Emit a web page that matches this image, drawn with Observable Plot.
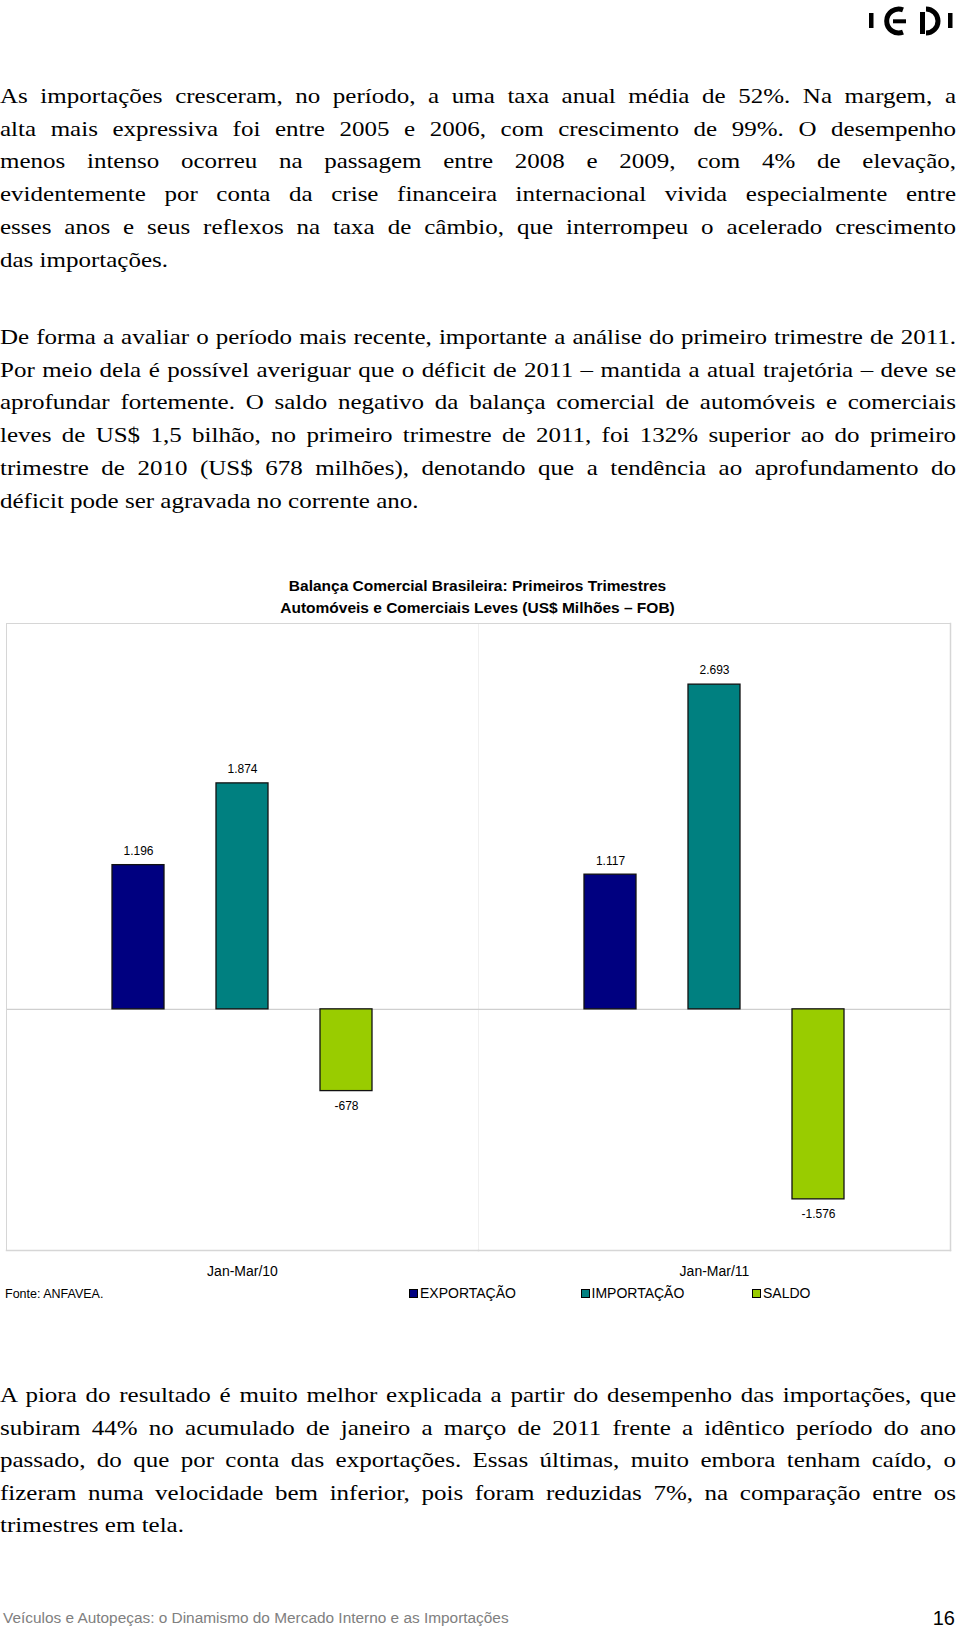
<!DOCTYPE html>
<html>
<head>
<meta charset="utf-8">
<script src="https://cdn.jsdelivr.net/npm/d3@7"></script>
<script src="https://cdn.jsdelivr.net/npm/@observablehq/plot@0.6"></script>
<style>
  html, body { margin: 0; padding: 0; background: #fff; }
  body { width: 960px; height: 1632px; position: relative; overflow: hidden; }
  .line { position: absolute; left: 0; width: 956px; white-space: nowrap;
          font-family: "Liberation Serif", "Times New Roman", serif; font-size: 25px;
          line-height: 30px; height: 30px; color: #000; transform: scaleY(0.88); }
  .sans { font-family: "Liberation Sans", Arial, sans-serif; position: absolute; white-space: nowrap; }
  .title { left: 0; width: 955px; text-align: center; font-weight: bold; font-size: 15.5px; line-height: 20px; color: #000; }
  #chart { position: absolute; left: 0; top: 613px; }
  .leg { position: absolute; top: 1284px; height: 18px; line-height: 18px; font-size: 14px; display: flex; align-items: center; }
  .sw { width: 7px; height: 7px; border: 1px solid #000; margin-right: 2px; }
</style>
</head>
<body>
<svg style="position:absolute;left:860px;top:0" width="100" height="45" viewBox="860 0 100 45">
  <rect x="869" y="13" width="4.5" height="15" fill="#000"/>
  <path d="M903,9.8 A12,12 0 1 0 903,32.2" fill="none" stroke="#000" stroke-width="5"/>
  <rect x="893" y="19.3" width="13" height="4" fill="#000"/>
  <rect x="920" y="12" width="5" height="22" fill="#000"/>
  <path d="M926,9 A12,12 0 0 1 926,33" fill="none" stroke="#000" stroke-width="5"/>
  <rect x="948" y="13" width="4.5" height="15" fill="#000"/>
</svg>
<div id="chart"></div>
<script>
// ---------- data ----------
const periods = ["Jan-Mar/10", "Jan-Mar/11"];
const series = ["EXPORTAÇÃO", "IMPORTAÇÃO", "SALDO"];
const exportacao = [1196, 1117];
const importacao = [1874, 2693];
const saldo = [-678, -1576];
const colors = ["#000080", "#008080", "#99CC00"];
const yDomain = [-2000, 3200];

const titleLines = [
  "Balança Comercial Brasileira: Primeiros Trimestres",
  "Automóveis e Comerciais Leves (US$ Milhões – FOB)"
];
const source = "Fonte: ANFAVEA.";

const para1 = [
  "As importações cresceram, no período, a uma taxa anual média de 52%. Na margem, a",
  "alta mais expressiva foi entre 2005 e 2006, com crescimento de 99%. O desempenho",
  "menos intenso ocorreu na passagem entre 2008 e 2009, com 4% de elevação,",
  "evidentemente por conta da crise financeira internacional vivida especialmente entre",
  "esses anos e seus reflexos na taxa de câmbio, que interrompeu o acelerado crescimento",
  "das importações."
];
const para2 = [
  "De forma a avaliar o período mais recente, importante a análise do primeiro trimestre de 2011.",
  "Por meio dela é possível averiguar que o déficit de 2011 – mantida a atual trajetória – deve se",
  "aprofundar fortemente. O saldo negativo da balança comercial de automóveis e comerciais",
  "leves de US$ 1,5 bilhão, no primeiro trimestre de 2011, foi 132% superior ao do primeiro",
  "trimestre de 2010 (US$ 678 milhões), denotando que a tendência ao aprofundamento do",
  "déficit pode ser agravada no corrente ano."
];
const para3 = [
  "A piora do resultado é muito melhor explicada a partir do desempenho das importações, que",
  "subiram 44% no acumulado de janeiro a março de 2011 frente a idêntico período do ano",
  "passado, do que por conta das exportações. Essas últimas, muito embora tenham caído, o",
  "fizeram numa velocidade bem inferior, pois foram reduzidas 7%, na comparação entre os",
  "trimestres em tela."
];
const footerText = "Veículos e Autopeças: o Dinamismo do Mercado Interno e as Importações";
const pageNumber = "16";

// ---------- page text ----------
function addLine(text, center, justify) {
  const d = document.createElement("div");
  d.className = "line";
  d.style.top = (center - 15) + "px";
  const s = document.createElement("span");
  s.textContent = text;
  d.appendChild(s);
  document.body.appendChild(d);
  if (justify) {
    const w = s.getBoundingClientRect().width;
    const n = (text.match(/ /g) || []).length;
    if (n) s.style.wordSpacing = ((956 - w) / n) + "px";
  }
}
function addPara(lines, start, step) {
  lines.forEach((t, i) => addLine(t, start + i * step, i < lines.length - 1));
}
addPara(para1, 96, 32.7);
addPara(para2, 337, 32.7);
addPara(para3, 1395, 32.6);

function addSans(text, cls, style) {
  const d = document.createElement("div");
  d.className = "sans " + cls;
  d.textContent = text;
  Object.assign(d.style, style);
  document.body.appendChild(d);
  return d;
}
titleLines.forEach((t, i) => addSans(t, "title", {top: (576 + i * 22) + "px"}));
addSans(source, "", {left: "5px", top: "1285px", fontSize: "12.5px", lineHeight: "18px", color: "#000"});
addSans(footerText, "", {left: "3px", top: "1608px", fontSize: "15.4px", lineHeight: "20px", color: "#808080"});
addSans(pageNumber, "", {right: "5px", top: "1606px", fontSize: "20px", lineHeight: "24px", color: "#000"});

// legend
series.forEach((s, i) => {
  const item = document.createElement("div");
  item.className = "leg sans";
  item.style.left = (409 + i * 171.5) + "px";
  const sw = document.createElement("div");
  sw.className = "sw";
  sw.style.background = colors[i];
  const tx = document.createElement("span");
  tx.textContent = s;
  item.appendChild(sw);
  item.appendChild(tx);
  document.body.appendChild(item);
});

// ---------- chart ----------
const data = periods.flatMap((p, i) => [
  {period: p, series: series[0], value: exportacao[i]},
  {period: p, series: series[1], value: importacao[i]},
  {period: p, series: series[2], value: saldo[i]}
]);
const fmt = d3.formatLocale({decimal: ",", thousands: ".", grouping: [3], currency: ["US$", ""], minus: "-"}).format(",d");
const border = "#d6d6d6";

const chart = Plot.plot({
  width: 960,
  height: 671,
  marginTop: 10,
  marginBottom: 34,
  marginLeft: 5,
  marginRight: 10,
  style: {fontFamily: "'Liberation Sans', Arial, sans-serif", fontSize: "14px", background: "transparent", color: "#000"},
  fx: {domain: periods, padding: 0, axis: "bottom", tickSize: 0, tickPadding: 16, label: null},
  x: {domain: series, paddingInner: 0.5, paddingOuter: 1, axis: null},
  y: {domain: yDomain, axis: null},
  color: {domain: series, range: colors},
  marks: [
    Plot.frame({stroke: "#f0f0f0"}),
    Plot.ruleY([0], {stroke: "#cfcfcf", strokeWidth: 1.2}),
    Plot.frame({anchor: "top", stroke: border}),
    Plot.frame({anchor: "bottom", stroke: border, strokeWidth: 1.5}),
    Plot.frame({anchor: "left", facetAnchor: "left", stroke: border}),
    Plot.frame({anchor: "right", facetAnchor: "right", stroke: border, strokeWidth: 1.5}),
    Plot.barY(data, {fx: "period", x: "series", y: "value", fill: "series", stroke: "#111", strokeWidth: 1.3}),
    Plot.text(data.filter(d => d.value >= 0), {fx: "period", x: "series", y: "value", text: d => fmt(d.value), dy: -14, fontSize: 12}),
    Plot.text(data.filter(d => d.value < 0), {fx: "period", x: "series", y: "value", text: d => fmt(d.value), dy: 15, fontSize: 12})
  ]
});
document.getElementById("chart").appendChild(chart);
</script>
</body>
</html>
